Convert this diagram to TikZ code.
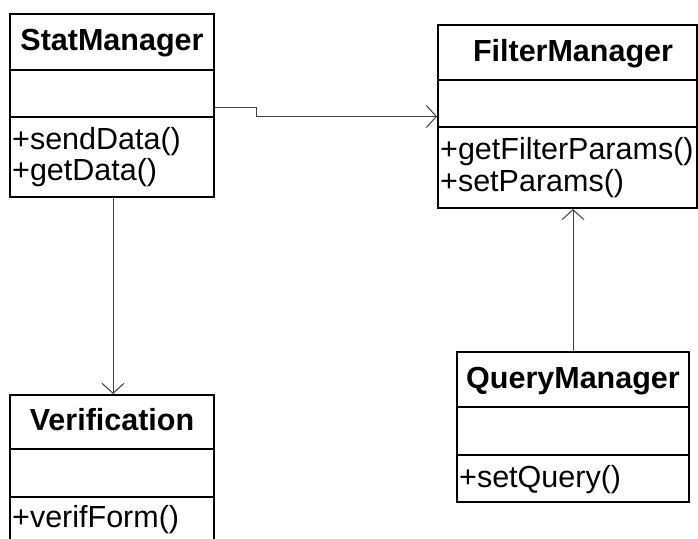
\documentclass[tikz,border=0pt]{standalone}
\usepackage{fontspec}
\setmainfont{Liberation Sans}
\usetikzlibrary{arrows.meta}
\tikzset{
  classbox/.style={draw=black, line width=2pt, rectangle, inner sep=0pt},
  divider/.style={draw=black, line width=2pt},
  cname/.style={anchor=base, inner sep=0pt, font=\fontsize{30.5}{32}\selectfont\bfseries},
  cmethod/.style={anchor=base west, inner sep=0pt, font=\fontsize{30.5}{32}\selectfont},
  assoc/.style={draw=black!75, line width=1pt, -{Straight Barb[length=10pt,width=22pt,line width=1pt]}}
}
\begin{document}
\begin{tikzpicture}[x=1pt,y=-1pt]
\useasboundingbox (0,0) rectangle (698,538);
\clip (0,0) rectangle (698,538);
\fill[white] (0,0) rectangle (698,538);

% StatManager
\node[classbox, minimum width=204pt, minimum height=183pt] (stat) at (112,105.5) {};
\draw[divider] (10,70) -- (214,70);
\draw[divider] (10,117) -- (214,117);
\node[cname] (statT) at (112,50.5) {StatManager};
\node[cmethod] (statM1) at (12,149) {+sendData()};
\node[cmethod] (statM2) at (12,180.5) {+getData()};

% FilterManager
\node[classbox, minimum width=259pt, minimum height=183pt] (filter) at (567.5,116.5) {};
\draw[divider] (438,80) -- (697,80);
\draw[divider] (438,127) -- (697,127);
\node[cname] (filterT) at (573,61.5) {FilterManager};
\node[cmethod] (filterM1) at (440,159) {+getFilterParams()};
\node[cmethod] (filterM2) at (440,191) {+setParams()};

% Verification
\node[classbox, minimum width=204pt, minimum height=180pt] (verif) at (112,485) {};
\draw[divider] (10,449) -- (214,449);
\draw[divider] (10,497) -- (214,497);
\node[cname] (verifT) at (112,430.5) {Verification};
\node[cmethod] (verifM1) at (12,527.5) {+verifForm()};

% QueryManager
\node[classbox, minimum width=232pt, minimum height=150pt] (query) at (573,427) {};
\draw[divider] (457,407) -- (689,407);
\draw[divider] (457,455) -- (689,455);
\node[cname] (queryT) at (573,388) {QueryManager};
\node[cmethod] (queryM1) at (459,487) {+setQuery()};

% associations
\draw[assoc] ([yshift=-1.5pt]stat.east) -- ++(41,0) |- (filter.west);
\draw[assoc] ([xshift=1pt]stat.south) -- ([xshift=1pt]verif.north);
\draw[assoc] (query.north) -- (query.north |- filter.south);
\end{tikzpicture}
\end{document}
